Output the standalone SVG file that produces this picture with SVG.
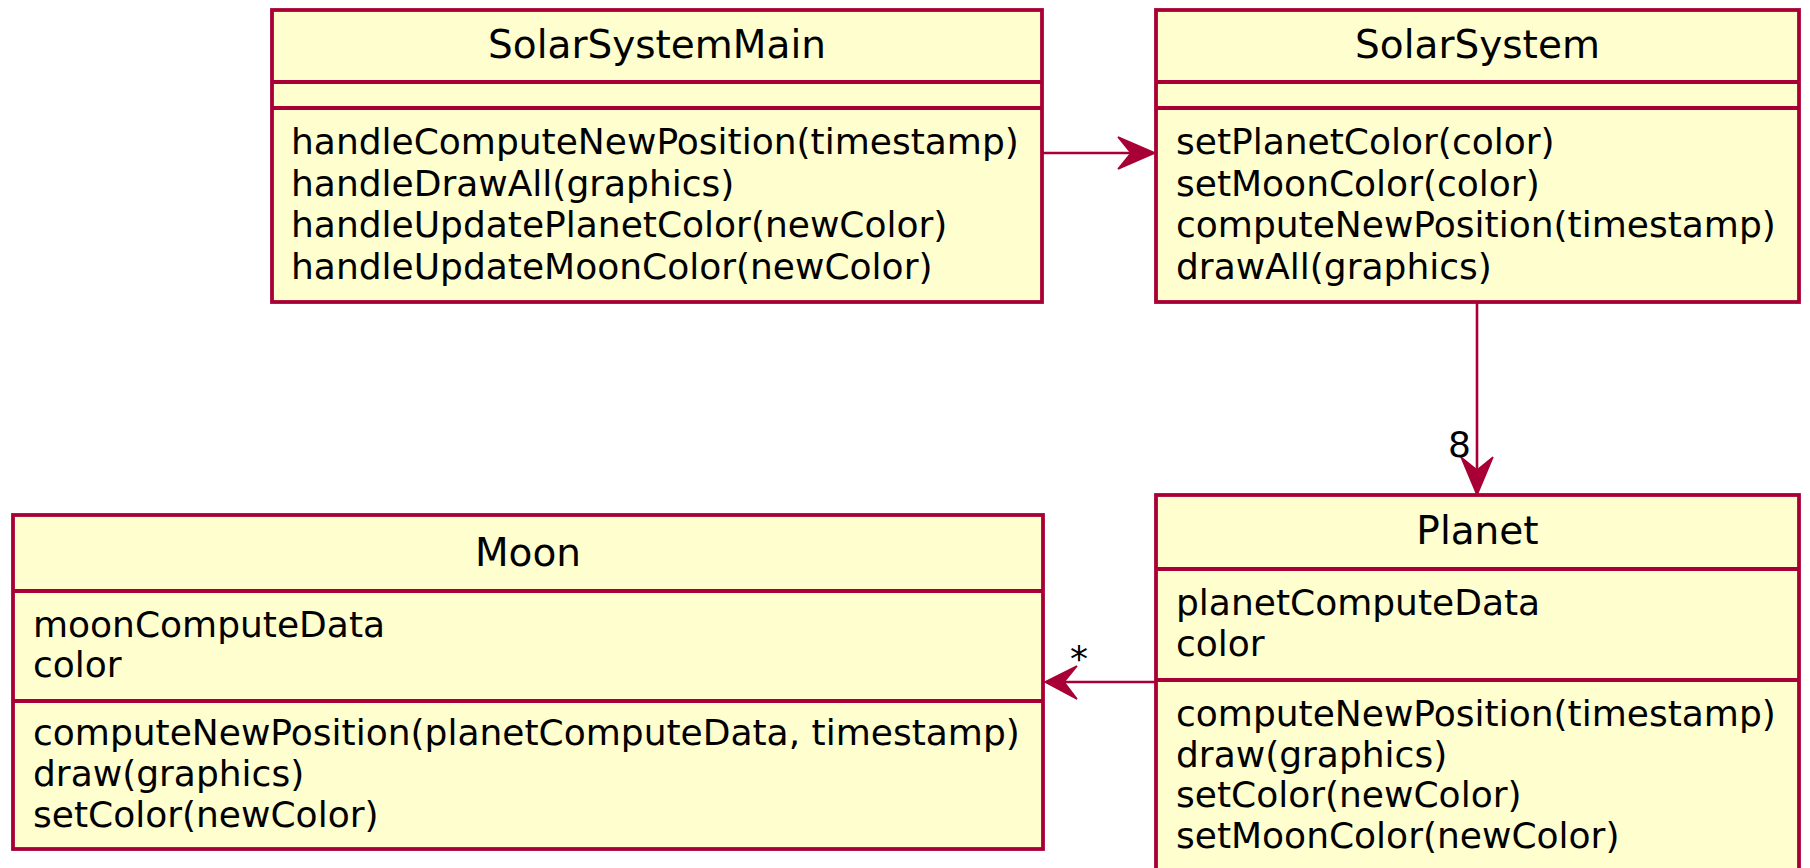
<svg xmlns="http://www.w3.org/2000/svg" width="1810" height="868" viewBox="0 0 1810 868">
<style>
.box{fill:#FEFECE;stroke:#A80036;stroke-width:3.8}
.sep{stroke:#A80036;stroke-width:3.8}
.hd{font-family:"DejaVu Sans",sans-serif;font-size:39px;fill:#000;text-anchor:middle}
.tx{font-family:"DejaVu Sans",sans-serif;font-size:36px;fill:#000}
.ln{stroke:#A80036;stroke-width:2.6;fill:none}
.ah{fill:#A80036;stroke:#A80036;stroke-width:1.5;stroke-linejoin:miter}
.lb{font-family:"DejaVu Sans",sans-serif;font-size:36px;fill:#000}
</style>
<rect width="1810" height="868" fill="#FFFFFF"/>
<g id="connectors">
<line class="ln" x1="1042" y1="153" x2="1150" y2="153"/>
<polygon class="ah" points="1155,153 1118,137 1131,153 1118,169"/>
<line class="ln" x1="1477" y1="302" x2="1477" y2="490"/>
<polygon class="ah" points="1477,495 1461,457 1477,470 1493,457"/>
<text class="lb" x="1471" y="457" text-anchor="end">8</text>
<line class="ln" x1="1156" y1="682" x2="1050" y2="682"/>
<polygon class="ah" points="1045,682 1077,666 1064,682 1077,699"/>
<text class="lb" x="1079" y="671" text-anchor="middle">*</text>
</g>
<g id="SolarSystemMain">
<rect class="box" x="272" y="10" width="770" height="292"/>
<line class="sep" x1="272" y1="82" x2="1042" y2="82"/>
<line class="sep" x1="272" y1="108" x2="1042" y2="108"/>
<text class="hd" x="657" y="58">SolarSystemMain</text>
<text class="tx" x="291" y="154">handleComputeNewPosition(timestamp)</text>
<text class="tx" x="291" y="195.5">handleDrawAll(graphics)</text>
<text class="tx" x="291" y="237">handleUpdatePlanetColor(newColor)</text>
<text class="tx" x="291" y="278.5">handleUpdateMoonColor(newColor)</text>
</g>
<g id="SolarSystem">
<rect class="box" x="1156" y="10" width="643" height="292"/>
<line class="sep" x1="1156" y1="82" x2="1799" y2="82"/>
<line class="sep" x1="1156" y1="108" x2="1799" y2="108"/>
<text class="hd" x="1477.5" y="58">SolarSystem</text>
<text class="tx" x="1176" y="154">setPlanetColor(color)</text>
<text class="tx" x="1176" y="195.5">setMoonColor(color)</text>
<text class="tx" x="1176" y="237">computeNewPosition(timestamp)</text>
<text class="tx" x="1176" y="278.5">drawAll(graphics)</text>
</g>
<g id="Moon">
<rect class="box" x="13" y="515" width="1030" height="334"/>
<line class="sep" x1="13" y1="591" x2="1043" y2="591"/>
<line class="sep" x1="13" y1="701" x2="1043" y2="701"/>
<text class="hd" x="528" y="566">Moon</text>
<text class="tx" x="33" y="637">moonComputeData</text>
<text class="tx" x="33" y="677">color</text>
<text class="tx" x="33" y="745">computeNewPosition(planetComputeData, timestamp)</text>
<text class="tx" x="33" y="786">draw(graphics)</text>
<text class="tx" x="33" y="827">setColor(newColor)</text>
</g>
<g id="Planet">
<rect class="box" x="1156" y="495" width="643" height="375"/>
<line class="sep" x1="1156" y1="569" x2="1799" y2="569"/>
<line class="sep" x1="1156" y1="680" x2="1799" y2="680"/>
<text class="hd" x="1477.5" y="544">Planet</text>
<text class="tx" x="1176" y="615">planetComputeData</text>
<text class="tx" x="1176" y="656">color</text>
<text class="tx" x="1176" y="726">computeNewPosition(timestamp)</text>
<text class="tx" x="1176" y="766.5">draw(graphics)</text>
<text class="tx" x="1176" y="807">setColor(newColor)</text>
<text class="tx" x="1176" y="847.5">setMoonColor(newColor)</text>
</g>
</svg>
